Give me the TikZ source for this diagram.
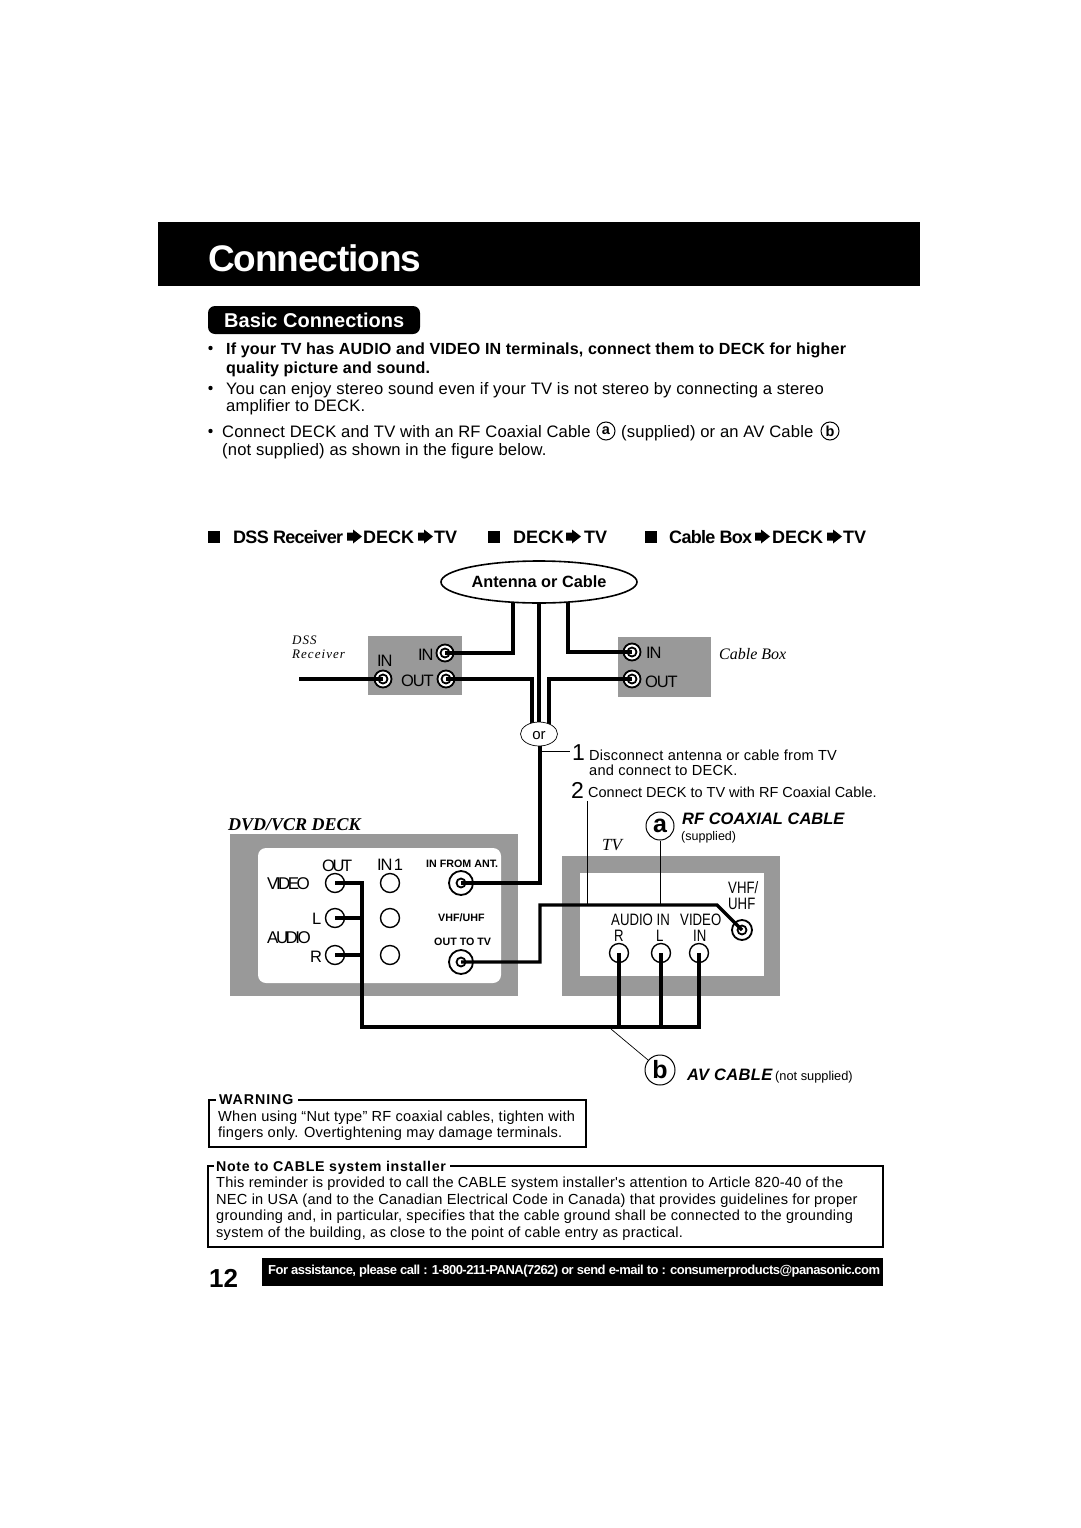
\documentclass[tikz,border=0pt]{standalone}
\usepackage{fontspec}
\setmainfont{Liberation Sans}
\newfontfamily\tightsf[LetterSpace=-7]{Liberation Sans}
\newfontfamily\headsf[LetterSpace=-4]{Liberation Sans}
\newfontfamily\narrowsf[FakeStretch=0.8]{Liberation Sans}
\newfontfamily\squeezesf[LetterSpace=-15]{Liberation Sans}
\newfontfamily\slimsf[LetterSpace=-3]{Liberation Sans}
\newfontfamily\footsf[LetterSpace=-4]{Liberation Sans}
\newfontfamily\widesf[LetterSpace=2]{Liberation Sans}
\newfontfamily\lightsf[LetterSpace=1]{Liberation Sans}
\newfontfamily\spacedsf[LetterSpace=1.6]{Liberation Sans}
\newfontfamily\notesf[LetterSpace=4.7]{Liberation Sans}
\newfontfamily\warnsf[LetterSpace=6.6]{Liberation Sans}
\newfontfamily\capserif{Liberation Serif}
\newfontfamily\dssserif[LetterSpace=8]{Liberation Serif}
\usetikzlibrary{shapes.geometric}
\tikzset{
	txt/.style={inner sep=0, anchor=base west},
	body/.style={txt, font=\lightsf\fontsize{16.6}{18}\selectfont},
	strong/.style={txt, font=\lightsf\fontsize{16.1}{18}\bfseries\selectfont},
	small/.style={txt, font=\spacedsf\fontsize{14.6}{16}\selectfont},
	panel/.style={txt, font=\tightsf\fontsize{16.5}{18}\selectfont},
	squeeze/.style={txt, font=\squeezesf\fontsize{17}{18}\selectfont},
	tvpanel/.style={txt, font=\narrowsf\fontsize{16.5}{18}\selectfont},
	head/.style={txt, font=\fontsize{18}{20}\bfseries\selectfont},
	headtight/.style={txt, font=\headsf\fontsize{18}{20}\bfseries\selectfont},
	tiny/.style={txt, font=\fontsize{10.7}{12}\bfseries\selectfont},
	cabletitle/.style={txt, font=\fontsize{16.5}{18}\bfseries\itshape\selectfont},
	panelname/.style={txt, font=\capserif\fontsize{16}{18}\itshape\selectfont},
	dssname/.style={txt, font=\dssserif\fontsize{13}{15}\itshape\selectfont},
	wire/.style={line width=3.2pt, line join=miter},
	thinwire/.style={line width=0.7pt},
	framed/.style={line width=1.8pt},
	jack/.style={circle, draw, line width=1.4pt, fill=white, minimum size=19pt, inner sep=0},
	coax/.style={circle, draw, line width=1.8pt, fill=white, minimum size=#1, inner sep=0},
	coax/.default=24pt,
	core/.style={circle, draw, line width=1.8pt, minimum size=9pt, inner sep=0},
	letter/.style={circle, draw, line width=1pt, fill=white, inner sep=0},
	hdarrow/.pic={\fill (0,-2.5) -- (6,-2.5) -- (6,0.5) -- (15,-6.5) -- (6,-13.5) -- (6,-10.5) -- (0,-10.5) -- cycle;}
}

\begin{document}
\begin{tikzpicture}[x=1pt, y=-1pt]
	\useasboundingbox (0, 0) rectangle (1080, 1528);

	% page heading
	\fill (158, 222) rectangle (920, 286);
	\node[txt, white, font=\slimsf\fontsize{37}{40}\bfseries\selectfont] (title) at (208, 271) {Connections};
	\fill[rounded corners=7pt] (208, 306) rectangle (420, 334);
	\node[txt, white, font=\fontsize{20}{22}\bfseries\selectfont] (sub) at (224, 327) {Basic Connections};

	% bullets
	\foreach \y in {348, 388, 431}
		\fill (210.5, \y) circle (2.2pt);
	\node[strong] (la) at (226, 354) {If your TV has AUDIO and VIDEO IN terminals, connect them to DECK for higher};
	\node[strong] (lb) at (226, 373) {quality picture and sound.};
	\node[body] (lc) at (226, 394) {You can enjoy stereo sound even if your TV is not stereo by connecting a stereo};
	\node[body] (ld) at (226, 411) {amplifier to DECK.};
	\node[body] (le) at (222, 437) {Connect DECK and TV with an RF Coaxial Cable};
	\node[letter, minimum size=18pt, font=\fontsize{14.5}{16}\bfseries\selectfont] (lea) at (606, 431) {a};
	\node[body] (lf) at (621, 437) {(supplied) or an AV Cable};
	\node[letter, minimum size=18pt, font=\fontsize{14.5}{16}\bfseries\selectfont] (leb) at (830, 431) {b};
	\node[body] (lg) at (222, 455) {(not supplied) as shown in the figure below.};

	% row of headings
	\foreach \x in {208, 488, 645}
		\fill (\x, 531) rectangle ++(11.5, 12);
	\node[headtight] (ha) at (233, 543) {DSS Receiver};
	\pic at (347, 543) {hdarrow};
	\node[head] (hb) at (363, 543) {DECK};
	\pic at (418, 543) {hdarrow};
	\node[head] (hc) at (434, 543) {TV};
	\node[head] (hd) at (513, 543) {DECK};
	\pic at (566, 543) {hdarrow};
	\node[head] (he) at (584, 543) {TV};
	\node[headtight] (hf) at (669, 543) {Cable Box};
	\pic at (755, 543) {hdarrow};
	\node[head] (hg) at (772, 543) {DECK};
	\pic at (827, 543) {hdarrow};
	\node[head] (hh) at (843, 543) {TV};

	% grey panels
	\fill[gray!80] (368, 636) rectangle (462, 695);
	\fill[gray!80] (618, 637) rectangle (711, 697);
	\fill[gray!80] (230, 834) rectangle (518, 996);
	\fill[white, rounded corners=8pt] (258, 848) rectangle (501, 983);
	\fill[gray!80] (562, 856) rectangle (780, 996);
	\fill[white] (580, 873) rectangle (764, 976);

	% jacks
	\node[coax=17pt] (dssin) at (445, 653) {};
	\node[coax=17pt] (dssout) at (446, 679) {};
	\node[coax=17pt] (dssant) at (383, 679) {};
	\node[coax=17pt] (boxin) at (632, 652) {};
	\node[coax=17pt] (boxout) at (632, 679) {};
	\node[coax] (deckin) at (461, 883) {};
	\node[coax] (deckout) at (461, 962) {};
	\node[coax=20pt] (tvant) at (742, 930) {};
	\foreach \n/\m in {dssin/dssa, dssout/dssb, dssant/dssc, boxin/boxa, boxout/boxb, deckin/decka, deckout/deckb, tvant/tvc}
		\node[core] (\m) at (\n) {};
	\node[jack] (vout) at (335, 883) {};
	\node[jack] (lout) at (335, 918) {};
	\node[jack] (rout) at (335, 955) {};
	\node[jack] (vin) at (390, 883) {};
	\node[jack] (lin) at (390, 918) {};
	\node[jack] (rin) at (390, 955) {};
	\node[jack] (tvr) at (619, 953) {};
	\node[jack] (tvl) at (661, 953) {};
	\node[jack] (tvv) at (699, 953) {};

	% cables
	\coordinate (antl) at (513, 600);
	\coordinate (antm) at (539, 600);
	\coordinate (antr) at (568, 600);
	\coordinate (orl) at (532, 730);
	\coordinate (orm) at (539, 730);
	\coordinate (orr) at (549, 730);
	\coordinate (orb) at (540, 740);
	\coordinate (bend) at (717, 905);
	\coordinate (avbus) at (362, 1027);
	\coordinate (avend) at (699, 1027);
	\draw[wire] (dssin.center) -| (antl);
	\draw[wire] (antm) -- (orm);
	\draw[wire] (boxin.center) -| (antr);
	\draw[wire] (dssout.center) -| (orl);
	\draw[wire] (boxout.center) -| (orr);
	\draw[wire] (dssant.center) -- ++(-84, 0) coordinate (dssfree);
	\draw[wire] (deckin.center) -| (orb);
	\draw[wire] (deckout.center) -- (540, 962) |- (bend) -- (tvant.center);
	\draw[wire] (vout.center) -| (avbus) -- (avend) -- (tvv.center);
	\draw[wire] (lout.center) -- (lout -| avbus);
	\draw[wire] (rout.center) -- (rout -| avbus);
	\draw[wire] (tvr.center) -- (tvr |- avbus);
	\draw[wire] (tvl.center) -- (tvl |- avbus);

	\node[ellipse, draw, line width=1.6pt, fill=white, minimum width=196pt, minimum height=42pt, inner sep=0] (ant) at (539, 582) {};
	\node[txt, anchor=base, font=\fontsize{16.3}{18}\bfseries\selectfont] (antlab) at (539, 587) {Antenna or Cable};
	\node[ellipse, draw, line width=0.7pt, fill=white, minimum width=37pt, minimum height=24pt, inner sep=0] (ornode) at (539, 734) {};
	\node[txt, anchor=base, font=\fontsize{15}{17}\selectfont] (orlab) at (539, 739) {or};

	% panel labels
	\node[dssname] (dssa1) at (292, 644) {DSS};
	\node[dssname] (dssa2) at (292, 658) {Receiver};
	\node[panelname] (boxname) at (719, 659) {Cable Box};
	\node[panel] (pa) at (377, 666) {IN};
	\node[panel] (pb) at (418, 660) {IN};
	\node[panel] (pc) at (401, 686) {OUT};
	\node[panel] (pd) at (646, 658) {IN};
	\node[panel] (pe) at (645, 687) {OUT};
	\node[txt, font=\capserif\fontsize{18}{20}\bfseries\itshape\selectfont] (deckname) at (228, 830) {DVD/VCR DECK};
	\node[txt, font=\capserif\fontsize{17}{20}\itshape\selectfont] (tvname) at (602, 850) {TV};

	\node[squeeze, font=\squeezesf\fontsize{16.5}{18}\selectfont] (va) at (322, 871) {OUT};
	\node[panel] (vb) at (377, 870) {IN\kern-2pt{} 1};
	\node[squeeze] (vc) at (267, 889) {VIDEO};
	\node[squeeze] (vd) at (267, 943) {AUDIO};
	\node[panel] (ve) at (312, 924) {L};
	\node[panel] (vf) at (310, 962) {R};
	\node[tiny] (ta) at (426, 867) {IN FROM ANT.};
	\node[tiny] (tb) at (438, 921) {VHF/UHF};
	\node[tiny] (tc) at (434, 945) {OUT TO TV};

	\node[tvpanel] (tva) at (728, 893) {VHF/};
	\node[tvpanel] (tvb) at (728, 909) {UHF};
	\node[tvpanel] (tvd) at (611, 925) {AUDIO IN};
	\node[tvpanel] (tve) at (680, 925) {VIDEO};
	\node[tvpanel] (tvf) at (614, 941) {R};
	\node[tvpanel] (tvg) at (656, 941) {L};
	\node[tvpanel] (tvh) at (693, 941) {IN};

	% numbered steps and cable callouts
	\node[txt, font=\fontsize{23}{24}\selectfont] (one) at (572, 760) {1};
	\node[txt, font=\fontsize{23}{24}\selectfont] (two) at (571, 798) {2};
	\node[small] (sa) at (589, 760) {Disconnect antenna or cable from TV};
	\node[small] (sb) at (589, 775) {and connect to DECK.};
	\node[small, font=\fontsize{14.5}{16}\selectfont] (sc) at (588, 797) {Connect DECK to TV with RF Coaxial Cable.};
	\node[letter, minimum size=28pt, font=\fontsize{25}{26}\bfseries\selectfont] (capa) at (660, 826) {a};
	\node[letter, minimum size=30pt, font=\fontsize{25}{26}\bfseries\selectfont] (capb) at (660, 1070) {b};
	\node[cabletitle] (rf) at (682, 824) {RF COAXIAL CABLE};
	\node[txt, font=\fontsize{12.5}{14}\selectfont] (sup) at (681, 840) {(supplied)};
	\node[cabletitle, font=\widesf\fontsize{16.5}{18}\bfseries\itshape\selectfont] (av) at (687, 1080) {AV CABLE};
	\node[txt, font=\fontsize{12.8}{14}\selectfont] (nosup) at (775, 1080) {(not supplied)};
	\coordinate (stepa) at (587, 801);
	\coordinate (stepb) at (587, 905);
	\coordinate (callb) at (611, 1029);
	\coordinate (onea) at (541, 751);
	\coordinate (oneb) at (570, 751);
	\draw[thinwire] (onea) -- (oneb);
	\draw[thinwire] (stepa) -- (stepb);
	\draw[thinwire] (capa) -- (capa |- bend);
	\draw[thinwire] (callb) -- (capb);

	% warning box
	\draw[framed] (216, 1100) -- (209, 1100) -- (209, 1147) -- (586, 1147) -- (586, 1100) -- (298, 1100);
	\node[txt, font=\warnsf\fontsize{14.2}{15}\bfseries\selectfont] (wa) at (219, 1104) {WARNING};
	\node[small] (wb) at (218, 1121) {When using “Nut type” RF coaxial cables, tighten with};
	\node[small] (wc) at (218, 1137) {fingers only. Overtightening may damage terminals.};

	% note box
	\draw[framed] (214, 1166) -- (208, 1166) -- (208, 1247) -- (883, 1247) -- (883, 1166) -- (450, 1166);
	\node[txt, font=\notesf\fontsize{14.2}{15}\bfseries\selectfont] (na) at (216, 1171) {Note to CABLE system installer};
	\node[small] (nb) at (216, 1187) {This reminder is provided to call the CABLE system installer's attention to Article 820-40 of the};
	\node[small] (nc) at (216, 1204) {NEC in USA (and to the Canadian Electrical Code in Canada) that provides guidelines for proper};
	\node[small] (nd) at (216, 1220) {grounding and, in particular, specifies that the cable ground shall be connected to the grounding};
	\node[small] (ne) at (216, 1237) {system of the building, as close to the point of cable entry as practical.};

	% footer
	\node[txt, font=\fontsize{26}{28}\bfseries\selectfont] (page) at (209, 1287) {12};
	\fill (262, 1258) rectangle (883, 1286);
	\node[txt, white, font=\footsf\fontsize{13}{15}\bfseries\selectfont] (help) at (268, 1274) {For assistance, please call : 1-800-211-PANA(7262) or send e-mail to : consumerproducts@panasonic.com};
\end{tikzpicture}
\end{document}
